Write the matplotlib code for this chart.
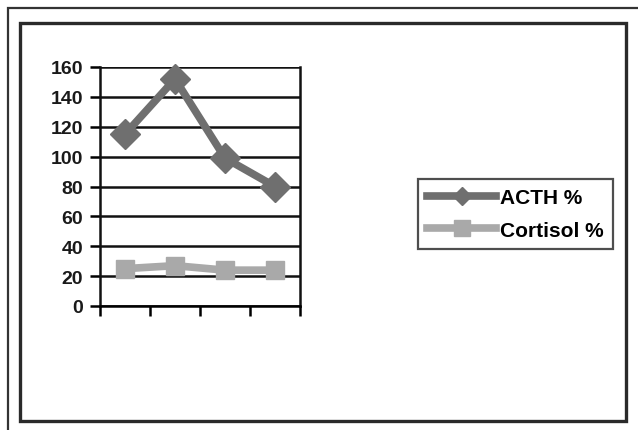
import matplotlib.pyplot as plt
from matplotlib.patches import Rectangle
from matplotlib.lines import Line2D

categories = ["1", "2", "3", "4"]
acth = [115, 152, 99, 80]
cortisol = [25, 27, 24, 24]
y_ticks = [0, 20, 40, 60, 80, 100, 120, 140, 160]

W, H = 638, 431
fig = plt.figure(figsize=(W / 100, H / 100), dpi=100)
plt.rcParams["font.family"] = ["Liberation Sans", "DejaVu Sans"]

# outer and inner frames (pixel coords -> figure fraction)
def px_rect(x0, y0, x1, y1, lw, color):
    fig.patches.append(Rectangle((x0 / W, 1 - y1 / H), (x1 - x0) / W, (y1 - y0) / H,
                                 transform=fig.transFigure, fill=False,
                                 edgecolor=color, linewidth=lw, zorder=0))

px_rect(8, 9, 660, 460, 1.6, "#333333")
px_rect(20, 24, 626, 422, 2.4, "#2a2a2a")

ax = fig.add_axes([100 / W, 1 - 307 / H, 200 / W, (307 - 68) / H])
x = list(range(len(categories)))
ax.plot(x, acth, color="#6f6f6f", lw=5.5, marker="D", ms=15, label="ACTH %", zorder=3,
        clip_on=False)
ax.plot(x, cortisol, color="#a9a9a9", lw=5.5, marker="s", ms=12.5, label="Cortisol %",
        zorder=3, clip_on=False)

ax.set_xlim(-0.5, len(categories) - 0.5)
ax.set_ylim(0, 160)
ax.set_yticks(y_ticks)
ax.set_xticks([i - 0.5 for i in range(len(categories) + 1)])
ax.set_xticklabels([])
ax.yaxis.grid(True, color="#111111", lw=1.8)
ax.set_axisbelow(True)
for s in ["left", "right"]:
    ax.spines[s].set_linewidth(1.8)
    ax.spines[s].set_color("#111111")
ax.spines["bottom"].set_linewidth(1.8)
ax.spines["top"].set_visible(False)
ax.tick_params(axis="y", length=7, width=1.8, pad=5, labelsize=14)
ax.tick_params(axis="x", length=7, width=1.8, direction="out")
for lab in ax.get_yticklabels():
    lab.set_fontweight("bold")
    lab.set_color("#1a1a1a")

handles = [Line2D([], [], color="#6f6f6f", lw=5.5, marker="D", ms=9),
           Line2D([], [], color="#a9a9a9", lw=5.5, marker="s", ms=12)]
leg = fig.legend(handles, ["ACTH %", "Cortisol %"], loc="center left",
                 bbox_to_anchor=(418 / W, 1 - 215 / H), frameon=True, fancybox=False,
                 edgecolor="#222222", handlelength=3.3, handletextpad=0.2,
                 borderpad=0.45, labelspacing=0.65, borderaxespad=0,
                 prop={"weight": "bold", "size": 15})
leg.get_frame().set_linewidth(1.6)

fig.savefig("out.png", dpi=100)
